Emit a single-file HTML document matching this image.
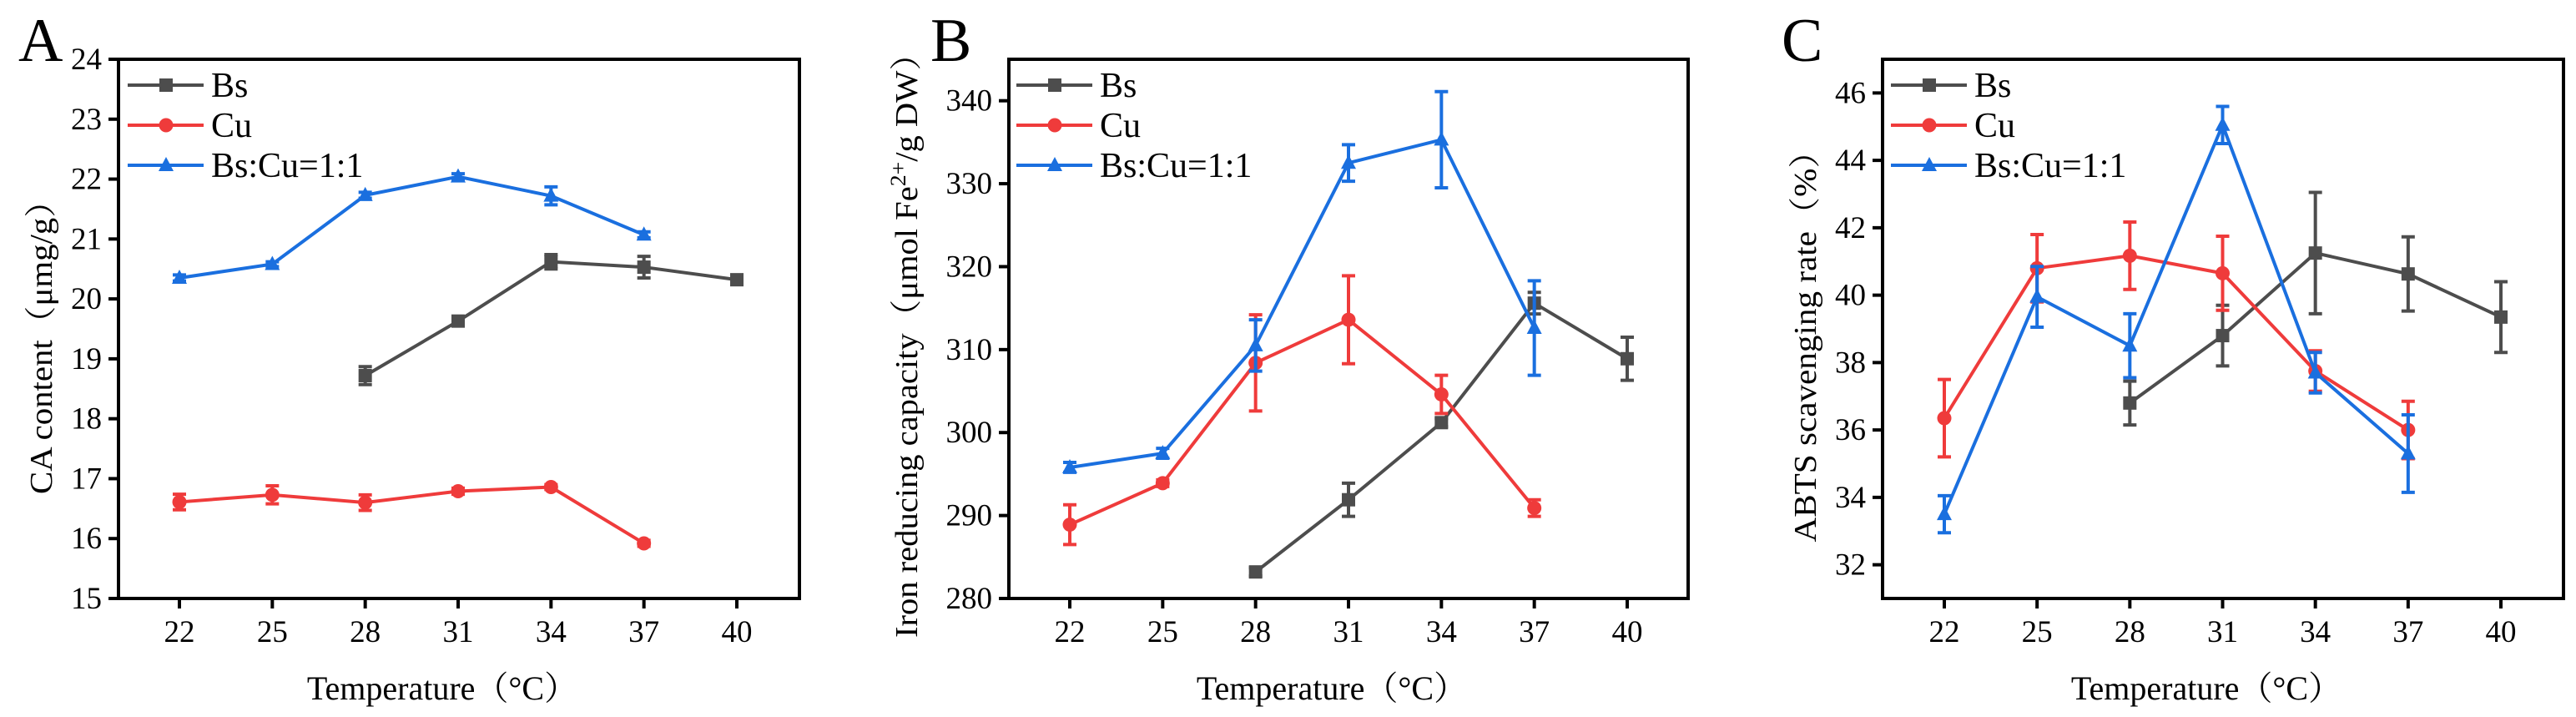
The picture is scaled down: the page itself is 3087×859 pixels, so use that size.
<!DOCTYPE html>
<html><head><meta charset="utf-8"><style>
html,body{margin:0;padding:0;background:#fff;}
svg{display:block;font-family:"Liberation Serif","Noto Serif CJK SC",serif;}
</style></head><body>
<svg id="fig" width="3087" height="859" viewBox="0 0 3087 859" xmlns="http://www.w3.org/2000/svg"></svg>
<script>
const temps = [22, 25, 28, 31, 34, 37, 40];
const seriesNames = ["Bs", "Cu", "Bs:Cu=1:1"];
// Panel A
const aBsX = [28, 31, 34, 37, 40];
const aBs = [18.72, 19.63, 20.62, 20.53, 20.32];
const aBsErr = [0.15, 0.07, 0.12, 0.18, 0.05];
const aCuX = [22, 25, 28, 31, 34, 37];
const aCu = [16.61, 16.73, 16.60, 16.79, 16.86, 15.92];
const aCuErr = [0.13, 0.15, 0.13, 0.05, 0.04, 0.05];
const aMixX = [22, 25, 28, 31, 34, 37];
const aMix = [20.35, 20.58, 21.73, 22.04, 21.72, 21.07];
const aMixErr = [0.05, 0.04, 0.05, 0.05, 0.15, 0.05];
const aTicks = [15, 16, 17, 18, 19, 20, 21, 22, 23, 24];
// Panel B
const bBsX = [28, 31, 34, 37, 40];
const bBs = [283.2, 291.9, 301.2, 315.6, 308.9];
const bBsErr = [0.5, 2.0, 0.5, 1.3, 2.6];
const bCuX = [22, 25, 28, 31, 34, 37];
const bCu = [288.9, 293.9, 308.4, 313.6, 304.6, 290.9];
const bCuErr = [2.4, 0.4, 5.8, 5.3, 2.3, 1.0];
const bMixX = [22, 25, 28, 31, 34, 37];
const bMix = [295.8, 297.5, 310.5, 332.5, 335.3, 312.6];
const bMixErr = [0.6, 0.6, 3.1, 2.2, 5.8, 5.7];
const bTicks = [280, 290, 300, 310, 320, 330, 340];
// Panel C
const cBsX = [28, 31, 34, 37, 40];
const cBs = [36.8, 38.8, 41.25, 40.63, 39.35];
const cBsErr = [0.65, 0.9, 1.8, 1.1, 1.05];
const cCuX = [22, 25, 28, 31, 34, 37];
const cCu = [36.35, 40.8, 41.17, 40.65, 37.75, 36.0];
const cCuErr = [1.15, 1.0, 1.0, 1.1, 0.6, 0.85];
const cMixX = [22, 25, 28, 31, 34, 37];
const cMix = [33.5, 39.95, 38.5, 45.05, 37.7, 35.3];
const cMixErr = [0.55, 0.9, 0.95, 0.55, 0.6, 1.15];
const cTicks = [32, 34, 36, 38, 40, 42, 44, 46];

const NS = "http://www.w3.org/2000/svg";
const svg = document.getElementById("fig");
const colors = ["#4d4d4d", "#ef3b3b", "#1a6fdf"];
function mk(tag, attrs, parent, text) {
  const e = document.createElementNS(NS, tag);
  for (const k in attrs) e.setAttribute(k, attrs[k]);
  if (text !== undefined) e.textContent = text;
  (parent || svg).appendChild(e);
  return e;
}
function marker(g, type, x, y, c) {
  let m;
  if (type === 0) m = mk("rect", {x: x - 8, y: y - 8, width: 16, height: 16, fill: c}, g);
  else if (type === 1) m = mk("circle", {cx: x, cy: y, r: 8.5, fill: c}, g);
  else m = mk("polygon", {points: `${x},${y - 10} ${x - 9},${y + 7} ${x + 9},${y + 7}`, fill: c}, g);
  
  
}
function panel(p) {
  const g = mk("g", {});
  
  
  const xs = v => p.x22 + (v - 22) / 18 * (p.x40 - p.x22);
  const ys = v => p.bottom - (v - p.ymin) / (p.ymax - p.ymin) * (p.bottom - p.top);
  p.series.forEach((s, i) => {
    const sg = mk("g", {}, g);
    
    
    const pts = s.x.map((xv, j) => xs(xv) + "," + ys(s.y[j])).join(" ");
    const ln = mk("polyline", {points: pts, fill: "none", stroke: colors[i], "stroke-width": 4}, sg);
    
    
    s.x.forEach((xv, j) => {
      const cx = xs(xv), hi = ys(s.y[j] + s.e[j]), lo = ys(s.y[j] - s.e[j]);
      const eb = mk("path", {d: `M${cx},${hi}V${lo}M${cx - 8},${hi}H${cx + 8}M${cx - 8},${lo}H${cx + 8}`, stroke: colors[i], "stroke-width": 4, fill: "none"}, sg);
      
      
      marker(sg, i, cx, ys(s.y[j]), colors[i]);
    });
  });
  const box = mk("rect", {x: p.left, y: p.top, width: p.right - p.left, height: p.bottom - p.top, fill: "none", stroke: "#000", "stroke-width": 4}, g);
  
  
  p.ticks.forEach(t => {
    const y = ys(t);
    const tk = mk("line", {x1: p.left - 12, x2: p.left, y1: y, y2: y, stroke: "#000", "stroke-width": 4}, g);
    
    
    const tl = mk("text", {x: p.left - 20, y: y + 12, "text-anchor": "end", "font-size": 37}, g, String(t));
    
    
  });
  temps.forEach(t => {
    const x = xs(t);
    const tk = mk("line", {x1: x, x2: x, y1: p.bottom, y2: p.bottom + 12, stroke: "#000", "stroke-width": 4}, g);
    
    
    const tl = mk("text", {x: x, y: 769, "text-anchor": "middle", "font-size": 37}, g, String(t));
    
    
  });
  const xt = mk("text", {x: (p.left + p.right) / 2 - 20, y: 838, "text-anchor": "middle", "font-size": 40}, g, "Temperature（°C）");
  
  
  const yt = mk("text", {x: 0, y: 0, "text-anchor": "middle", "font-size": 38, textLength: p.ylen, lengthAdjust: "spacingAndGlyphs", transform: `translate(${p.ytx},${p.yty}) rotate(-90)`}, g);
  
  
  if (p.id === "b") {
    yt.innerHTML = 'Iron reducing capacity（μmol Fe<tspan baseline-shift="super" font-size="26">2+</tspan>/g DW）';
  } else yt.textContent = p.ytitle;
  const lt = mk("text", {x: p.lx, y: 73, "font-size": 74}, g, p.id.toUpperCase());
  
  
  [102, 150, 198].forEach((ly, i) => {
    const lg = mk("g", {}, g);
    
    
    mk("line", {x1: p.legX, x2: p.legX + 91, y1: ly, y2: ly, stroke: colors[i], "stroke-width": 4}, lg);
    marker(lg, i, p.legX + 46, ly, colors[i]);
    mk("text", {x: p.legX + 100, y: ly + 14, "font-size": 42}, lg, seriesNames[i]);
  });
}
panel({id: "a", left: 142, right: 958, top: 71, bottom: 717, x22: 215, x40: 883, ymin: 15, ymax: 24, ticks: aTicks,
  ytx: 62, yty: 406, ylen: 372, ytitle: "CA content（μmg/g）", lx: 22, legX: 153,
  series: [{x: aBsX, y: aBs, e: aBsErr}, {x: aCuX, y: aCu, e: aCuErr}, {x: aMixX, y: aMix, e: aMixErr}]});
panel({id: "b", left: 1209, right: 2023, top: 71, bottom: 717, x22: 1282, x40: 1950, ymin: 280, ymax: 345, ticks: bTicks,
  ytx: 1099, yty: 404, ylen: 720, lx: 1115, legX: 1218,
  series: [{x: bBsX, y: bBs, e: bBsErr}, {x: bCuX, y: bCu, e: bCuErr}, {x: bMixX, y: bMix, e: bMixErr}]});
panel({id: "c", left: 2256, right: 3072, top: 71, bottom: 717, x22: 2330, x40: 2997, ymin: 31, ymax: 47, ticks: cTicks,
  ytx: 2176, yty: 405, ylen: 489, ytitle: "ABTS scavenging rate（%）", lx: 2135, legX: 2266,
  series: [{x: cBsX, y: cBs, e: cBsErr}, {x: cCuX, y: cCu, e: cCuErr}, {x: cMixX, y: cMix, e: cMixErr}]});
</script>
</body></html>
